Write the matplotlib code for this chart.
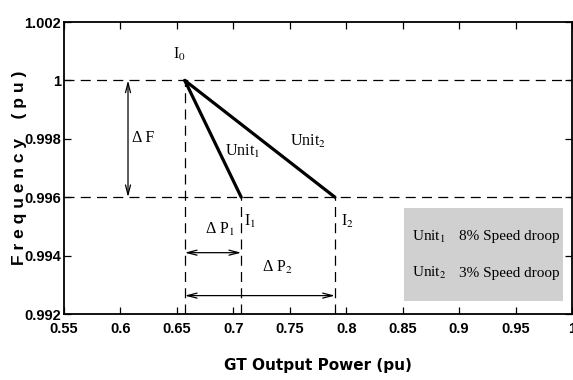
import numpy as np
import matplotlib
matplotlib.use('Agg')
import matplotlib.pyplot as plt

plt.rcParams['mathtext.fontset'] = 'stix'

# operating points (pu)
p0, f0 = 0.657, 1.0          # I0
p1, f1 = 0.707, 0.996        # I1, unit 1 (8% droop)
p2, f2 = 0.790, 0.996        # I2, unit 2 (3% droop)

unit1_p = [p0, p1]
unit1_f = [f0, f1]
unit2_p = [p0, p2]
unit2_f = [f0, f2]

xticks = [0.55, 0.6, 0.65, 0.7, 0.75, 0.8, 0.85, 0.9, 0.95, 1]
yticks = [0.992, 0.994, 0.996, 0.998, 1, 1.002]

legend_rows = [("Unit$_1$", "8% Speed droop"), ("Unit$_2$", "3% Speed droop")]

tick_font = ['Liberation Sans', 'DejaVu Sans']
serif = ['Liberation Serif', 'DejaVu Serif']

fig = plt.figure(figsize=(5.73, 3.8), dpi=100)
ax = fig.add_axes([64/573, 1 - 314/380, 508/573, 292/380])

dash = dict(color='black', lw=0.9, ls=(0, (8, 5)))
ax.axhline(f0, **dash)
ax.axhline(f1, **dash)
ax.plot([p0, p0], [0.992, f0], **dash)
ax.plot([p1, p1], [0.992, f1], **dash)
ax.plot([p2, p2], [0.992, f2], **dash)

ax.plot(unit1_p, unit1_f, color='black', lw=2.3, solid_capstyle='round')
ax.plot(unit2_p, unit2_f, color='black', lw=2.3, solid_capstyle='round')

arrow = dict(arrowstyle='<->,head_length=0.7,head_width=0.18', color='black', lw=0.9,
             shrinkA=0, shrinkB=0)
ax.annotate('', xy=(0.6067, f0), xytext=(0.6067, f1), arrowprops=arrow)
ax.annotate('', xy=(p0, 0.9941), xytext=(p1, 0.9941), arrowprops=arrow)
ax.annotate('', xy=(p0, 0.99263), xytext=(p2, 0.99263), arrowprops=arrow)

txt = dict(family=serif, fontsize=11.5, va='center', ha='left')
ax.text(0.6102, 0.99803, 'Δ F', **txt)
ax.text(0.6750, 0.99488, 'Δ P$_1$', **txt)
ax.text(0.7250, 0.99358, 'Δ P$_2$', **txt)
ax.text(0.6463, 1.00090, 'I$_0$', **txt)
ax.text(0.7095, 0.99516, 'I$_1$', **txt)
ax.text(0.7950, 0.99516, 'I$_2$', **txt)
ax.text(0.6926, 0.99755, 'Unit$_1$', **txt)
ax.text(0.7500, 0.99790, 'Unit$_2$', **txt)

# legend box
ax.add_patch(plt.Rectangle((0.851, 0.99245), 0.141, 0.00318, facecolor='#d0d0d0',
                           edgecolor='none', zorder=3))
box_txt = dict(txt, fontsize=11)
for (name, desc), yy in zip(legend_rows, [0.99465, 0.9934]):
    ax.text(0.858, yy, name, zorder=4, **box_txt)
    ax.text(0.900, yy, desc, zorder=4, **box_txt)

ax.set_xlim(0.55, 1)
ax.set_ylim(0.992, 1.002)
ax.set_xticks(xticks)
ax.set_yticks(yticks)
ax.set_xticklabels([f"{v:g}" for v in xticks])
ax.set_yticklabels([f"{v:g}" for v in yticks])
ax.tick_params(direction='in', length=5, width=0.9, top=True, right=True)
ax.tick_params(axis='x', pad=6)
ax.tick_params(axis='y', pad=2)
for lab in ax.get_xticklabels() + ax.get_yticklabels():
    lab.set_family(tick_font)
    lab.set_fontweight('bold')
    lab.set_fontsize(10.5)
for s in ax.spines.values():
    s.set_linewidth(1.3)

ax.set_xlabel('GT Output Power (pu)', fontsize=11, fontweight='bold',
              family=['DejaVu Sans'])
ax.xaxis.set_label_coords(0.5, -0.15)
ax.set_ylabel('F r e q u e n c y    ( p u )', fontsize=12.5, fontweight='bold',
              family=['Liberation Sans', 'DejaVu Sans'])
ax.yaxis.set_label_coords(-0.072, 0.5)

fig.savefig('out.png', dpi=100)
